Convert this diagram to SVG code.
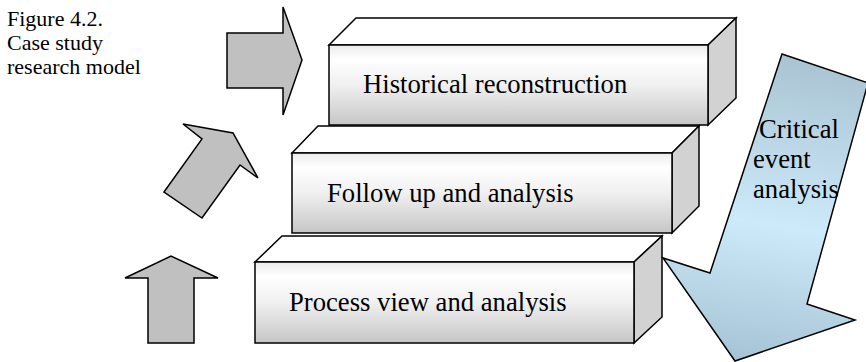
<svg xmlns="http://www.w3.org/2000/svg" width="866" height="362" viewBox="0 0 866 362">
<style>
.fig{font-family:"Liberation Serif","Times New Roman",serif;font-size:22px;fill:#000}
.lbl{font-family:"Liberation Serif","Times New Roman",serif;font-size:26.67px;fill:#000}
.edge{stroke:#000;stroke-width:1.5;stroke-linejoin:miter}
.top{fill:#ffffff}
.side{fill:#d2d2d2}
.front{fill:url(#frontGrad)}
.gray{fill:#c0c0c0}
</style>
<defs>
<linearGradient id="frontGrad" x1="0" y1="0" x2="0" y2="1">
<stop offset="0" stop-color="#ececec"/>
<stop offset="0.18" stop-color="#ffffff"/>
<stop offset="0.5" stop-color="#f0f0f0"/>
<stop offset="1" stop-color="#c6c6c6"/>
</linearGradient>
<linearGradient id="blueGrad" gradientUnits="userSpaceOnUse" x1="782" y1="54" x2="735" y2="361">
<stop offset="0" stop-color="#a9c3d2"/>
<stop offset="0.55" stop-color="#cdeafa"/>
<stop offset="1" stop-color="#a6c3d5"/>
</linearGradient>
</defs>

<g id="caption">
<text class="fig" x="7" y="26">Figure 4.2.</text>
<text class="fig" x="7" y="50">Case study</text>
<text class="fig" x="7" y="74">research model</text>
</g>

<g id="connectors">
<polygon class="gray edge" points="227,33 283,33 283,7 302,60 283,115 283,88 227,88"/>
<polygon class="gray edge" points="164,192 202,139 183,124 233,133 258,178 240,165 202,218"/>
<polygon class="gray edge" points="148,343 148,278 125,278 171,256 218,278 194,278 194,343"/>
</g>

<g id="box-historical">
<polygon class="top edge" points="329,45 356,18 736,18 708,45"/>
<polygon class="side edge" points="708,45 736,18 736,98 708,125"/>
<rect class="front edge" x="329" y="45" width="379" height="80"/>
<text class="lbl" x="363" y="93">Historical reconstruction</text>
</g>

<g id="box-follow">
<polygon class="top edge" points="292,153 318,126 699,126 672,153"/>
<polygon class="side edge" points="672,153 699,126 699,206 672,233"/>
<rect class="front edge" x="292" y="153" width="380" height="80"/>
<text class="lbl" x="327" y="202">Follow up and analysis</text>
</g>

<g id="box-process">
<polygon class="top edge" points="255,262 282,236 662,236 634,262"/>
<polygon class="side edge" points="634,262 662,236 662,317 634,343"/>
<rect class="front edge" x="255" y="262" width="379" height="81"/>
<text class="lbl" x="289" y="311">Process view and analysis</text>
</g>

<g id="critical-event">
<polygon class="edge" fill="url(#blueGrad)" points="782,54 868,83 807,304 855,320 735,361 663,258 710,273"/>
<text class="lbl" x="759" y="138">Critical</text>
<text class="lbl" x="753" y="168">event</text>
<text class="lbl" x="753" y="198">analysis</text>
</g>
</svg>
